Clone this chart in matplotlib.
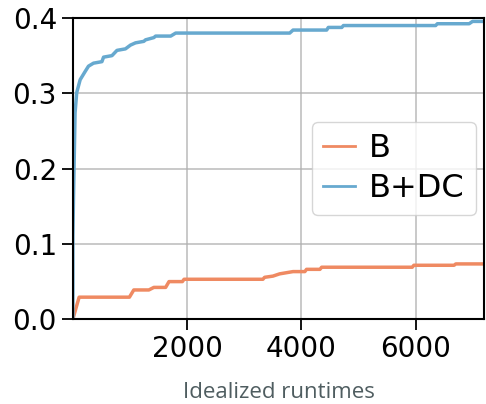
import matplotlib
matplotlib.use('Agg')
import matplotlib.pyplot as plt

# curve vertices
b_x = [0, 109, 990, 1066, 1330, 1418, 1624, 1683, 1917, 1947, 3327, 3357,
       3503, 3621, 3855, 4062, 4091, 4326, 4356, 5942, 5971, 6675, 6705, 7200]
b_y = [0, 0.029, 0.029, 0.0386, 0.0386, 0.042, 0.042, 0.0497, 0.0497, 0.0528,
       0.0528, 0.0554, 0.057, 0.060, 0.063, 0.063, 0.066, 0.066, 0.0688,
       0.0688, 0.0714, 0.0714, 0.0732, 0.0732]

bdc_x = [0, 0, 10, 20, 38, 67, 127, 215, 273, 361, 508, 537, 684, 772, 920,
         1008, 1096, 1242, 1272, 1418, 1448, 1713, 1800, 3797, 3855, 4444,
         4473, 4709, 4737, 6352, 6382, 6939, 6999, 7200]
bdc_y = [0, 0.11, 0.16, 0.2, 0.274, 0.301, 0.318, 0.329, 0.336, 0.340, 0.342,
         0.348, 0.350, 0.357, 0.359, 0.364, 0.367, 0.369, 0.371, 0.374, 0.376,
         0.376, 0.380, 0.380, 0.384, 0.384, 0.3875, 0.3875, 0.390, 0.390,
         0.3924, 0.3924, 0.3955, 0.3955]

labels = ['B', 'B+DC']
colors = ['#ef8a62', '#67a9cf']
xticks = [2000, 4000, 6000]
yticks = [0.0, 0.1, 0.2, 0.3, 0.4]

plt.rcParams['font.size'] = 20

fig = plt.figure(figsize=(4.86, 4.04), dpi=100)
ax = fig.add_axes([0.150, 0.2104, 0.846, 0.745])

ax.plot(b_x, b_y, color=colors[0], lw=2.5, label=labels[0])
ax.plot(bdc_x, bdc_y, color=colors[1], lw=2.5, label=labels[1])

ax.set_xlim(0, 7200)
ax.set_ylim(0, 0.4)
ax.set_xticks(xticks)
ax.set_yticks(yticks)
ax.grid(True, color='#b0b0b0', lw=1.2, alpha=0.8)
ax.set_axisbelow(True)
for s in ax.spines.values():
    s.set_linewidth(1.5)
    s.set_color('black')
ax.tick_params(length=8, width=1.3)

ax.set_xlabel('Idealized runtimes', fontsize=16, color='#4f5d60',
              family='Open Sans', labelpad=14)

leg = ax.legend(loc='center right', fontsize=23, handlelength=1.0,
                handletextpad=0.45, labelspacing=0.3, borderpad=0.35,
                fancybox=True, framealpha=0.8, borderaxespad=0.25)
for line in leg.get_lines():
    line.set_linewidth(2.0)

fig.savefig('out.png', dpi=100)
